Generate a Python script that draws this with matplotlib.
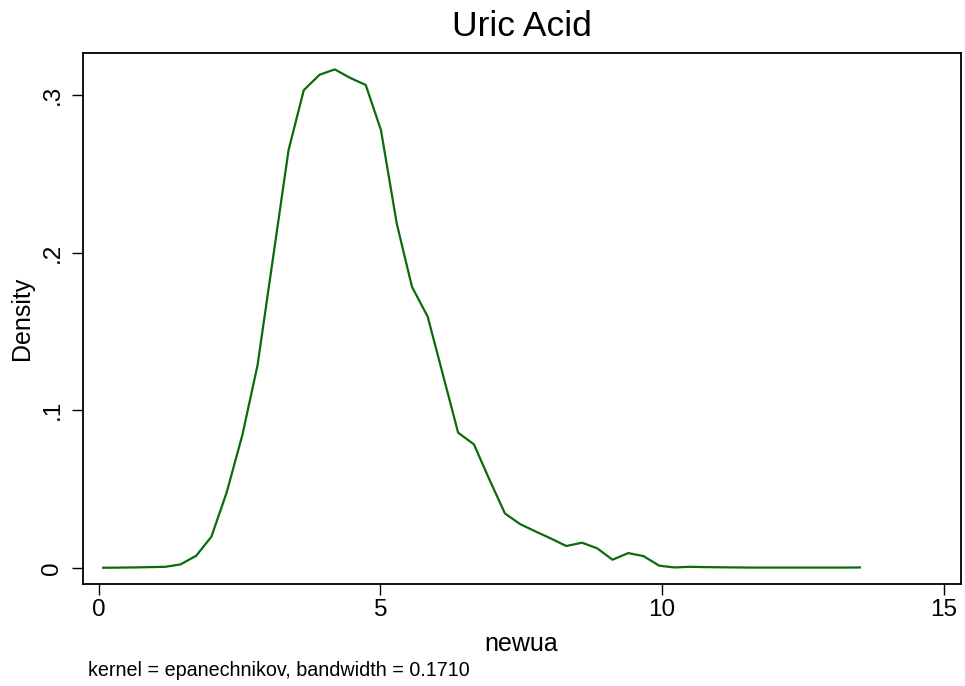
import matplotlib
matplotlib.use('Agg')
import matplotlib.pyplot as plt

plt.rcParams['font.family'] = ['Liberation Sans', 'DejaVu Sans']

# kdensity estimates (50 grid points)
newua = [0.08, 0.36, 0.63, 0.90, 1.18, 1.45, 1.73, 2.00, 2.27, 2.55,
         2.82, 3.10, 3.37, 3.64, 3.92, 4.19, 4.47, 4.74, 5.01, 5.29,
         5.56, 5.84, 6.11, 6.38, 6.66, 6.93, 7.21, 7.48, 7.75, 8.03,
         8.30, 8.58, 8.85, 9.12, 9.40, 9.67, 9.95, 10.22, 10.49, 10.77,
         11.04, 11.32, 11.59, 11.86, 12.14, 12.41, 12.69, 12.96, 13.23, 13.51]
density = [0.0000, 0.0001, 0.0002, 0.0004, 0.0006, 0.0021, 0.0076, 0.0197, 0.0476, 0.0842,
           0.1286, 0.1980, 0.2650, 0.3030, 0.3128, 0.3162, 0.3107, 0.3063, 0.2777, 0.2185,
           0.1783, 0.1593, 0.1225, 0.0857, 0.0783, 0.0564, 0.0345, 0.0277, 0.0231, 0.0185,
           0.0138, 0.0159, 0.0123, 0.0051, 0.0093, 0.0074, 0.0013, 0.0002, 0.0006, 0.0004,
           0.0003, 0.0002, 0.0001, 0.0001, 0.0001, 0.0001, 0.0001, 0.0001, 0.0001, 0.0002]

xticks = [0, 5, 10, 15]
yticks = [0, 0.1, 0.2, 0.3]
ytick_labels = ['0', '.1', '.2', '.3']

fig = plt.figure(figsize=(9.65, 6.86), dpi=100)
ax = fig.add_axes([0.0857, 0.1487, 0.9098, 0.7745])

ax.plot(newua, density, color='#0b6b0b', lw=1.6)

ax.set_xlim(-0.284, 15.30)
ax.set_ylim(-0.0103, 0.3268)
ax.set_xticks(xticks)
ax.set_xticklabels([str(t) for t in xticks])
ax.set_yticks(yticks)
ax.set_yticklabels(ytick_labels, rotation=90, va='center')

ax.tick_params(axis='x', length=8, width=1, pad=3, labelsize=17.5)
ax.tick_params(axis='y', length=8, width=1, pad=6, labelsize=17.5)
for s in ax.spines.values():
    s.set_linewidth(1.3)
    s.set_color('black')

ax.set_xlabel('newua', fontsize=18, labelpad=8)
ax.set_ylabel('Density', fontsize=18, labelpad=5)
fig.text(0.541, 0.962, 'Uric Acid', fontsize=25.5, ha='center', va='center')
fig.text(0.091, 0.023, 'kernel = epanechnikov, bandwidth = 0.1710', fontsize=14.2,
         ha='left', va='center')

fig.savefig('out.png', dpi=100)
